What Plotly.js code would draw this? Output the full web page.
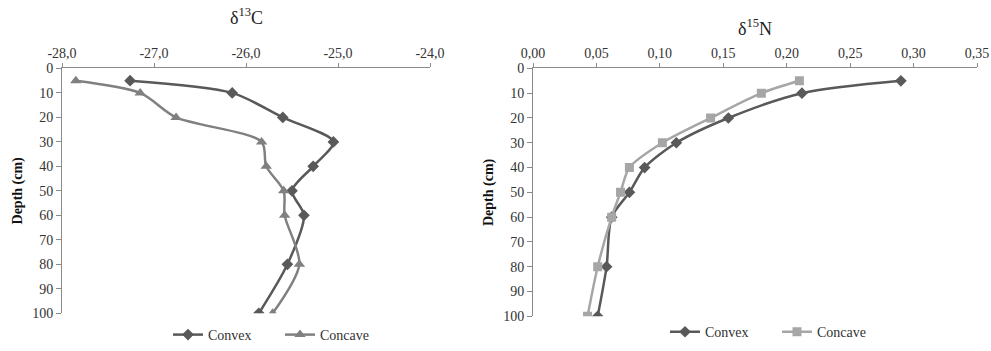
<!DOCTYPE html>
<html>
<head>
<meta charset="utf-8">
<script src="https://cdn.plot.ly/plotly-3.0.1.min.js"></script>
<style>
html,body{margin:0;padding:0;background:#fff;}
#chart{width:991px;height:351px;}
</style>
</head>
<body>
<div id="chart"></div>
<script>
// Depths (cm)
const depthC = [5, 10, 20, 30, 40, 50, 60, 80, 100];
const depthN = [5, 10, 20, 30, 40, 50, 60, 80, 100];
// delta 13C
const c13Convex  = [-27.26, -26.15, -25.60, -25.05, -25.27, -25.50, -25.37, -25.55, -25.86];
const c13Concave = [-27.85, -27.15, -26.76, -25.83, -25.78, -25.59, -25.58, -25.42, -25.71];
// delta 15N
const n15Convex  = [0.290, 0.212, 0.154, 0.113, 0.088, 0.076, 0.062, 0.058, 0.051];
const n15Concave = [0.210, 0.180, 0.140, 0.102, 0.076, 0.069, 0.062, 0.051, 0.043];
// tick labels
const c13TickVals = [-28, -27, -26, -25, -24];
const c13TickText = ['-28,0', '-27,0', '-26,0', '-25,0', '-24,0'];
const n15TickVals = [0, 0.05, 0.10, 0.15, 0.20, 0.25, 0.30, 0.35];
const n15TickText = ['0,00', '0,05', '0,10', '0,15', '0,20', '0,25', '0,30', '0,35'];
const depthTicks = [0, 10, 20, 30, 40, 50, 60, 70, 80, 90, 100];
const depthTickText = ['0', '10', '20', '30', '40', '50', '60', '70', '80', '90', '100'];
const seriesNames = ['Convex', 'Concave'];

const FONT = 'Liberation Serif';
const AXC = '#8a8a8a';
const TXT = '#333333';
const cDark = '#595959', cMid = '#808080', cLight = '#a6a6a6';

// wrap plain labels in a span so they are drawn as styled tspans
const sp = s => '<span style="font-family:Liberation Serif">' + s + '</span>';

const lineBase = {shape: 'spline', smoothing: 0.8, width: 2.5};

const traces = [
  {x: c13Convex, y: depthC, name: sp(seriesNames[0]), xaxis: 'x', yaxis: 'y', mode: 'lines+markers',
   line: Object.assign({color: cDark}, lineBase), marker: {symbol: 'diamond', size: 9, color: cDark}, legend: 'legend'},
  {x: c13Concave, y: depthC, name: sp(seriesNames[1]), xaxis: 'x', yaxis: 'y', mode: 'lines+markers',
   line: Object.assign({color: cMid}, lineBase), marker: {symbol: 'triangle-up', size: 10, color: cMid}, legend: 'legend'},
  {x: n15Convex, y: depthN, name: sp(seriesNames[0]), xaxis: 'x2', yaxis: 'y2', mode: 'lines+markers',
   line: Object.assign({color: cDark}, lineBase), marker: {symbol: 'diamond', size: 9, color: cDark}, legend: 'legend2'},
  {x: n15Concave, y: depthN, name: sp(seriesNames[1]), xaxis: 'x2', yaxis: 'y2', mode: 'lines+markers',
   line: Object.assign({color: cLight}, lineBase), marker: {symbol: 'square', size: 9, color: cLight}, legend: 'legend2'}
];

function xAx(dom, range, tv, tt) {
  return {domain: dom, range: range, side: 'top', tickvals: tv, ticktext: tt.map(sp),
    ticks: 'outside', ticklen: 4, tickcolor: AXC, tickwidth: 1,
    showline: true, linecolor: AXC, linewidth: 1, showgrid: false, zeroline: false,
    tickfont: {family: FONT, size: 14, color: TXT}, fixedrange: true};
}
function yAx(dom, anchor) {
  return {domain: dom, anchor: anchor, range: [100, 0], tickvals: depthTicks, ticktext: depthTickText.map(sp),
    ticks: 'outside', ticklen: 5, tickcolor: AXC, tickwidth: 1,
    showline: true, linecolor: AXC, linewidth: 1, showgrid: false, zeroline: false,
    tickfont: {family: FONT, size: 14, color: TXT},
    title: {text: '<b>Depth (cm)</b>', font: {family: FONT, size: 14, color: '#111'}, standoff: 6},
    fixedrange: true};
}

const W = 991, H = 351;
const layout = {
  width: W, height: H,
  font: {family: FONT, size: 14, color: TXT},
  margin: {l: 0, r: 0, t: 0, b: 0},
  paper_bgcolor: '#fff', plot_bgcolor: '#fff',
  showlegend: true,
  xaxis: Object.assign(xAx([62 / W, 430 / W], [-28, -24], c13TickVals, c13TickText), {anchor: 'y'}),
  yaxis: yAx([1 - 316 / H, 1 - 69 / H], 'x'),
  xaxis2: Object.assign(xAx([533 / W, 977 / W], [0, 0.35], n15TickVals, n15TickText), {anchor: 'y2'}),
  yaxis2: yAx([1 - 319 / H, 1 - 69 / H], 'x2'),
  legend: {orientation: 'h', x: 168 / W, xanchor: 'left', y: 1 - 338 / H, yanchor: 'middle',
    font: {family: FONT, size: 14, color: TXT}, itemwidth: 30, entrywidth: 67, bgcolor: 'rgba(0,0,0,0)'},
  legend2: {orientation: 'h', x: 665 / W, xanchor: 'left', y: 1 - 335 / H, yanchor: 'middle',
    font: {family: FONT, size: 14, color: TXT}, itemwidth: 30, entrywidth: 67, bgcolor: 'rgba(0,0,0,0)'},
  annotations: [
    {text: 'δ<sup>13</sup>C', xref: 'paper', yref: 'paper', x: 246 / W, y: 1 - 17 / H,
     xanchor: 'center', yanchor: 'middle', showarrow: false, font: {family: FONT, size: 18, color: '#222'}},
    {text: 'δ<sup>15</sup>N', xref: 'paper', yref: 'paper', x: 755 / W, y: 1 - 28 / H,
     xanchor: 'center', yanchor: 'middle', showarrow: false, font: {family: FONT, size: 18, color: '#222'}}
  ]
};

Plotly.newPlot('chart', traces, layout, {displayModeBar: false, staticPlot: true});
</script>
</body>
</html>
